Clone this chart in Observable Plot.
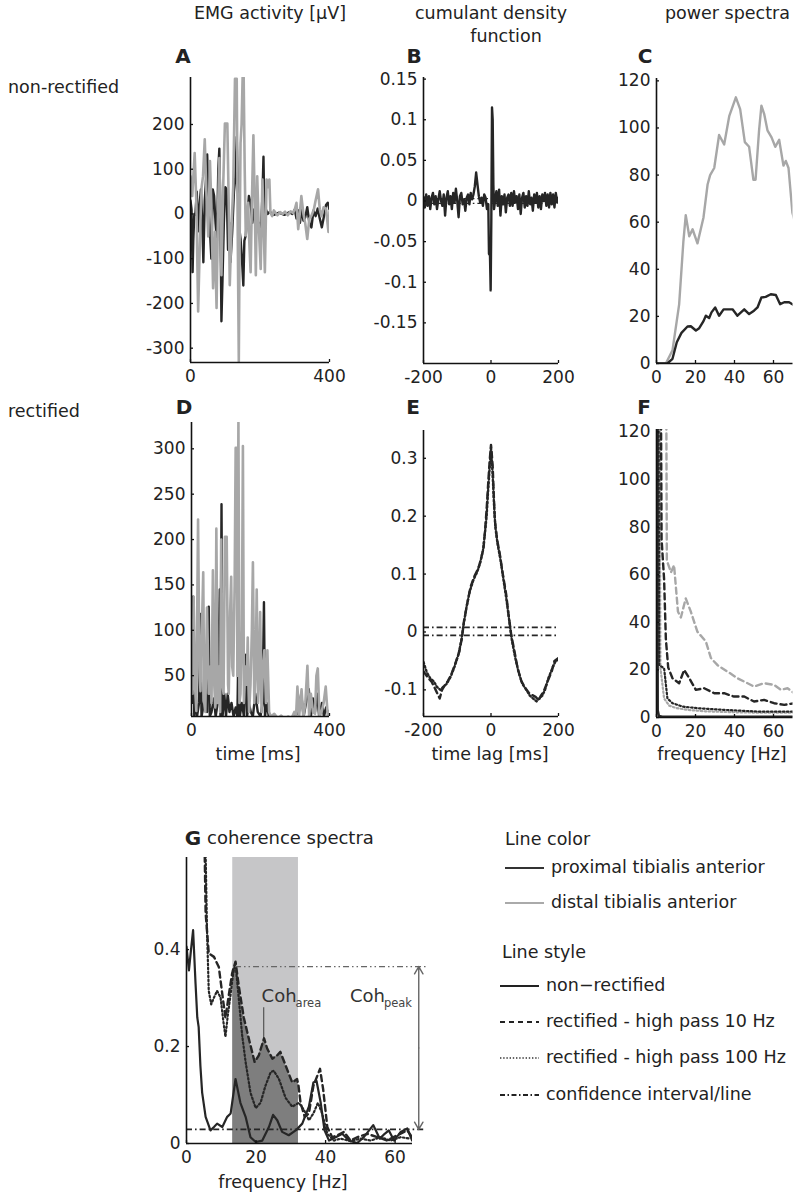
<!DOCTYPE html>
<html>
<head>
<meta charset="utf-8">
<script src="https://cdn.jsdelivr.net/npm/d3@7"></script>
<script src="https://cdn.jsdelivr.net/npm/@observablehq/plot@0.6"></script>
<style>
  html, body { margin: 0; padding: 0; background: #fff; }
  #root { position: relative; width: 793px; height: 1199px; overflow: hidden; font-family: 'DejaVu Sans', sans-serif; color: #222; }
  .lbl { position: absolute; white-space: nowrap; line-height: 1; }
</style>
</head>
<body>
<div id="root"></div>
<script>
// ---------------- DATA ----------------
// Panel A: non-rectified EMG [µV] vs time [ms]
const aGrayT = [0,5,12,17,22,28,32,36,41,46,51,56,60,65,70,75,79,83,86,89,94,99,106,110,113,118,123,128,133,136,139,141,144,147,150,153,156,159,162,166,169,173,177,181,185,188,192,196,202,207,211,214,219,223,227,230,235,240,245,250,258,265,272,280,288,295,300,305,310,315,319,325,330,336,342,348,355,360,367,372,377,383,390,397,400];
const aGrayV = [84,40,136,20,-218,-30,60,84,167,40,-50,118,20,-166,-40,-210,0,125,10,-137,60,202,202,20,-159,-30,62,302,302,-50,-329,-100,158,200,305,305,100,-48,-10,25,-60,-130,40,176,20,-137,84,-20,-123,77,-40,-130,77,60,77,3,-5,8,2,-3,4,0,5,-3,6,2,10,25,-34,5,40,0,-20,-56,-10,-4,10,30,55,10,-5,15,12,-40,5];
const aBlackT = [0,3,6,8,11,14,18,22,26,30,34,37,41,45,48,52,56,60,64,68,72,76,80,83,86,89,92,96,100,104,108,112,115,120,125,129,133,136,140,144,148,152,155,159,163,168,173,178,183,188,193,198,203,207,210,213,217,222,228,240,255,270,285,293,300,305,310,315,320,325,330,336,342,348,354,360,366,372,378,384,390,395,400];
const aBlackV = [30,10,-130,-60,0,-2,50,-39,20,55,-20,-108,30,80,133,20,-39,-100,55,40,-20,-60,100,146,0,-240,-150,-20,60,55,-80,-20,-108,-40,50,80,172,60,-30,-55,-100,-160,-60,-48,-10,40,25,-20,10,-19,-40,-20,-30,40,128,-19,10,0,5,-2,3,-2,4,0,10,-10,8,-20,12,-15,-8,15,-20,-30,8,-5,12,-10,-30,-5,20,25,10];

// Panel B: cumulant density (non-rectified) vs lag [ms]
const bLag = [-200,-196,-192,-188,-184,-180,-176,-172,-168,-164,-160,-156,-152,-148,-144,-140,-136,-132,-128,-124,-120,-116,-112,-108,-104,-100,-96,-92,-88,-84,-80,-76,-72,-68,-64,-60,-56,-52,-48,-44,-40,-36,-32,-28,-24,-20,-16,-12,-8,-6,-3,-1,1,2,3,5,7,9,12,16,20,24,28,32,36,40,44,48,52,56,60,64,68,72,76,80,84,88,92,96,100,104,108,112,116,120,124,128,132,136,140,144,148,152,156,160,164,168,172,176,180,184,188,192,196,200];
const bVal = [0.005,-0.008,0.008,-0.006,0.006,-0.01,0.004,0.01,-0.004,0.006,-0.01,0.002,0.012,0.0,-0.006,0.008,-0.018,0.004,0.012,-0.004,0.006,-0.01,0.01,-0.002,0.015,0.0,-0.02,0.006,0.01,-0.004,0.002,-0.012,0.004,0.008,-0.004,0.01,0.002,0.008,0.018,0.035,0.02,0.006,-0.002,0.004,-0.006,0.008,0.004,-0.01,-0.004,-0.065,-0.067,-0.11,-0.02,0.05,0.115,0.1,0.02,-0.01,0.0,0.012,-0.006,0.014,-0.018,0.006,-0.004,0.008,-0.014,0.004,0.008,-0.006,0.01,-0.006,0.012,-0.002,0.006,-0.01,0.008,-0.016,0.004,0.01,-0.008,0.006,-0.006,0.012,-0.004,0.004,-0.012,0.008,-0.002,0.01,-0.008,0.006,-0.01,0.008,0.0,0.01,-0.006,0.008,-0.008,0.01,-0.004,0.008,-0.008,0.01,-0.002,0.004];
const bConf = [0.003, -0.003];

// Panel C: power spectra (non-rectified) vs frequency [Hz]
const cGrayF = [0,4.8,8.2,11.6,13.8,15,16.8,18.5,21,24.1,26.2,27.5,29.6,32.1,34.7,37.3,40.7,42.9,45.3,47.5,49.7,50.8,52.6,53.8,55.2,56.9,59,60.9,62.9,65.1,66.3,67.7,69.7,71];
const cGrayP = [0,0,5.6,25,52,63,54,57,51,62,76,80,83,97,93,105,113,108,94,92,78,78,99,109.5,106,99,96,92,95,84,86,83,64,60];
const cBlackF = [0,5.6,8.2,10.4,12.8,15.9,17.6,20.2,21.9,24.1,25.3,27,28.2,30.1,32.1,34.4,36.4,39,41.5,45,47.5,50,51.8,53.8,56,58.6,61.2,63.4,65.5,68,70.4];
const cBlackP = [0,0,2,9,13,15.7,15.8,14,15,18,20.3,19.3,21.7,23.8,20.3,23,23,23,20.3,23,21,22.4,23.8,28,28.3,29.4,29.1,25.2,26,26,24.8];

// Panel D: rectified EMG [µV] vs time [ms]
const dGrayT = [0,3,6,10,14,19,23,26,30,34,37,40,45,50,55,58,62,66,69,72,76,80,83,86,90,93,97,102,106,108,112,115,118,121,125,128,131,133,136,139,142,146,149,152,156,160,163,167,171,175,178,182,186,189,193,196,199,203,207,211,216,220,225,230,240,250,260,270,280,290,298,303,307,312,319,324,330,336,341,346,352,358,362,366,371,377,383,389,395,400];
const dGrayV = [78,30,137,40,11,222,60,33,100,164,20,10,125,30,60,20,166,40,15,212,20,60,10,200,40,30,203,203,40,30,120,159,60,50,150,301,301,50,331,20,30,100,303,20,60,40,92,10,40,100,175,20,60,145,20,50,120,10,60,78,20,78,10,5,8,3,6,2,5,3,10,5,38,5,35,3,20,61,5,30,10,8,50,58,5,10,20,38,5,10];
const dBlackT = [0,2,5,8,12,16,22,26,29,34,40,45,50,53,58,65,70,76,82,84,87,90,95,100,105,110,116,122,128,133,137,140,146,152,158,161,166,172,178,185,192,200,206,210,213,218,224,230,250,270,290,300,310,318,325,332,340,346,352,358,364,370,378,384,390,400];
const dBlackV = [137,20,137,5,30,5,20,118,5,15,30,10,126,5,10,25,5,20,145,5,239,5,30,5,30,10,20,5,15,5,111,5,20,5,73,5,20,10,5,30,10,5,20,131,5,20,5,3,3,3,3,5,10,30,5,20,35,5,25,10,30,5,20,5,15,5];

// Panel E: cumulant density (rectified) vs lag [ms]
const eDashLag = [-200,-188,-176,-164,-152,-145,-137,-128,-118,-106,-94,-86,-80,-70,-61,-50,-37,-30,-22,-17,-12.5,-8,-5,-2,0,2,5,8,11.5,18,26,35,45,52,60,70,79,90,103,112,122,132,141,148,156,168,180,188,200];
const eDashVal = [-0.068,-0.078,-0.086,-0.1,-0.115,-0.1,-0.092,-0.085,-0.074,-0.055,-0.034,-0.01,0.019,0.05,0.077,0.095,0.111,0.125,0.146,0.18,0.216,0.26,0.286,0.31,0.323,0.31,0.286,0.24,0.193,0.16,0.135,0.1,0.065,0.03,-0.005,-0.035,-0.063,-0.085,-0.098,-0.105,-0.109,-0.112,-0.118,-0.11,-0.103,-0.085,-0.068,-0.05,-0.045];
const eDotLag = [-200,-190,-180,-170,-160,-150,-142,-132,-120,-108,-96,-88,-82,-72,-63,-52,-40,-32,-24,-18,-13,-9,-5,-2,0,2,5,9,13,20,28,37,46,54,62,72,82,93,105,115,125,135,143,152,160,170,182,192,200];
const eDotVal = [-0.052,-0.07,-0.08,-0.085,-0.095,-0.1,-0.095,-0.09,-0.078,-0.06,-0.038,-0.015,0.01,0.045,0.07,0.09,0.105,0.12,0.14,0.17,0.2,0.24,0.275,0.3,0.318,0.3,0.27,0.22,0.18,0.15,0.125,0.09,0.055,0.02,-0.015,-0.045,-0.07,-0.09,-0.1,-0.11,-0.115,-0.12,-0.115,-0.11,-0.1,-0.08,-0.062,-0.05,-0.048];
const eConf = [0.008, -0.006];

// Panel F: power spectra (rectified) vs frequency [Hz]
const fSolidF = [0,0.6,1.2,3,71];
const fSolidP = [300,3,0.6,0.3,0.3];
const fDashBlackF = [1.4,2.6,3.9,4.8,6,8.2,11.6,14.2,16.8,20.2,24.4,29.6,34.7,39.8,45,50,55.2,60.3,65.5,70.6];
const fDashBlackP = [300,75,58,33,21,16.5,14.4,20,16.5,11.6,12.3,10.2,10.2,8.8,8.8,6.7,7.4,6,5.3,6];
const fDashGrayF = [4.3,5.3,7.4,9,11,12.5,15,17.6,21,25.3,27.9,31.3,36.4,41.5,46.7,50,55.2,60.3,63.8,67.2,70.6];
const fDashGrayP = [300,66,61,64,44.5,42,50,44.5,36,32,25,22,19.3,16.5,14.4,13,14.4,13.7,11.6,12.3,10.2];
const fDotBlackF = [0.5,1.4,3.9,5.6,8.2,13.3,21,34.7,51.8,70.6];
const fDotBlackP = [300,22,20.7,8,6,4.6,3.9,3.2,2.5,2.5];
const fDotGrayF = [1.0,2.0,3.9,6.5,10,16,25,40,55,70.6];
const fDotGrayP = [300,21,8,5,4,3.2,2.6,2.2,2,2];

// Panel G: coherence spectra vs frequency [Hz]
const gSolidF = [0,0.7,1.3,1.9,2.6,3.1,3.5,4,4.5,5.5,6.9,7.9,8.8,10.3,11.7,12.7,14.1,15.5,17,18.4,19.9,21.8,23.7,24.9,26.1,27.5,29.4,31.4,33.3,35.2,36.5,37.4,38.6,39.7,41,42.9,44.8,46.7,49.1,51,53.7,55.6,57,58.2,59.7,61.6,63.5,64.9];
const gSolidC = [0.406,0.357,0.4,0.44,0.33,0.26,0.24,0.16,0.105,0.055,0.027,0.034,0.041,0.034,0.055,0.062,0.133,0.084,0.055,0.013,0.003,0.006,0.034,0.059,0.048,0.024,0.017,0.027,0.041,0.076,0.126,0.129,0.084,0.027,0.006,0.013,0.02,0.006,0.001,0.013,0.038,0.01,0.02,0.027,0.006,0.024,0.031,0.006];
const gDashF = [4.8,5.5,6.4,7.9,9.3,10.3,11.2,12.2,13.1,13.3,14.1,15.1,16.5,17.9,19.6,20.8,22.3,23.2,24.7,26.1,27,28.5,30.4,31.8,32.2,32.8,34,35.2,36.5,38.4,39.3,40.5,41.9,43.4,45.3,47.2,49.1,52,54.9,57.7,60.6,63.5,64.9];
const gDashC = [0.8,0.476,0.392,0.385,0.364,0.308,0.259,0.308,0.35,0.356,0.375,0.322,0.259,0.217,0.168,0.182,0.217,0.196,0.175,0.182,0.189,0.161,0.126,0.133,0.12,0.084,0.055,0.062,0.119,0.154,0.112,0.034,0.013,0.017,0.024,0.006,0.013,0.02,0.013,0.006,0.017,0.027,0.013];
const gDotF = [5,5.9,6.4,7.1,7.9,8.8,9.8,10.6,11.2,11.9,12.7,13.4,14.1,15.1,16,17,18.4,19.9,21.3,22.7,24.2,25.1,26.6,28.5,30.4,32.3,33.8,35.2,36.5,37.8,39,40.5,42.4,44.3,47.2,50.1,53,55.8,58.7,61.6,64.5];
const gDotC = [0.8,0.44,0.315,0.287,0.301,0.315,0.301,0.252,0.22,0.266,0.308,0.35,0.371,0.294,0.224,0.168,0.105,0.073,0.084,0.119,0.147,0.15,0.133,0.094,0.076,0.084,0.069,0.048,0.062,0.084,0.062,0.02,0.006,0.01,0.005,0.01,0.006,0.013,0.006,0.013,0.01];
const gBand = [13.3, 32.2];          // Hz, shaded frequency band
const gConfidence = 0.029;           // confidence line
const gPeak = {f: 14.1, coh: 0.365}; // peak coherence
const gLineEnd = 69;                 // Hz, end of reference lines
const gArrowF = 66.8;                // Hz, Coh_peak arrow
const gAreaLabel = {f: 21.6, coh: 0.291, leaderF: 22.2, leaderTop: 0.28, leaderBottom: 0.216};
const gPeakLabel = {f: 47.0, coh: 0.291};

// tick labels
const aYTicks = [-300,-200,-100,0,100,200], aXTicks = [0,400];
const bYTicks = [-0.15,-0.1,-0.05,0,0.05,0.1,0.15], bXTicks = [-200,0,200];
const cYTicks = [0,20,40,60,80,100,120], cXTicks = [0,20,40,60];
const dYTicks = [50,100,150,200,250,300], dXTicks = [0,400];
const eYTicks = [-0.1,0,0.1,0.2,0.3], eXTicks = [-200,0,200];
const fYTicks = [0,20,40,60,80,100,120], fXTicks = [0,20,40,60];
const gYTicks = [0,0.2,0.4], gXTicks = [0,20,40,60];

// ---------------- DRAWING ----------------
const FONT = "'DejaVu Sans', sans-serif";
const BLACK = "#262626", GRAY = "#a7a7a7";
const DASH = "6,4", DOT = "1.6,2.4", DASHDOT = "6,3,1.6,3";
const root = document.getElementById("root");
const rows = (xs, ys) => xs.map((x, i) => ({x, y: ys[i]}));

function label(text, x, y, {anchor = "middle", size = 17.5, weight = 400} = {}) {
  const d = document.createElement("div");
  d.className = "lbl";
  d.textContent = text;
  d.style.left = x + "px";
  d.style.top = y + "px";
  d.style.fontSize = size + "px";
  d.style.fontWeight = weight;
  const tx = anchor === "middle" ? "-50%" : anchor === "end" ? "-100%" : "0";
  d.style.transform = `translate(${tx}, -50%)`;
  root.appendChild(d);
}

function panel(o) {
  const [x0, y0, x1, y1] = o.frame;
  const mL = 70, mR = 30, mT = 20, mB = 40;
  const chart = Plot.plot({
    width: x1 - x0 + mL + mR, height: y1 - y0 + mT + mB,
    marginLeft: mL, marginRight: mR, marginTop: mT, marginBottom: mB,
    style: {background: "transparent", overflow: "visible", fontFamily: FONT, fontSize: "17px", color: "#222", maxWidth: "none"},
    x: {domain: o.xDomain}, y: {domain: o.yDomain},
    marks: [
      ...o.marks,
      Plot.ruleX([o.xDomain[0]], {stroke: "#111", strokeWidth: 1.6}),
      Plot.ruleY([o.yDomain[0]], {stroke: "#111", strokeWidth: 1.6}),
      Plot.axisY(o.yTicks, {tickSize: -3, tickPadding: 9, tickFormat: d => String(d), label: null, stroke: "#111", strokeWidth: 1.3}),
      Plot.axisX(o.xTicks, {tickSize: -3, tickPadding: 10, tickFormat: d => String(d), label: null, stroke: "#111", strokeWidth: 1.3})
    ]
  });
  chart.style.position = "absolute";
  chart.style.left = (x0 - mL) + "px";
  chart.style.top = (y0 - mT) + "px";
  root.appendChild(chart);
}

// Panel A
panel({
  frame: [190, 77, 329, 362], xDomain: [0, 400], yDomain: [-332, 305], xTicks: aXTicks, yTicks: aYTicks,
  marks: [
    Plot.line(rows(aBlackT, aBlackV), {x: "x", y: "y", stroke: BLACK, strokeWidth: 2.4, clip: true}),
    Plot.line(rows(aGrayT, aGrayV), {x: "x", y: "y", stroke: GRAY, strokeWidth: 2.6, clip: true})
  ]
});
// Panel B
panel({
  frame: [423, 77, 558, 363], xDomain: [-200, 200], yDomain: [-0.2, 0.152], xTicks: bXTicks, yTicks: bYTicks,
  marks: [
    Plot.ruleY(bConf, {stroke: BLACK, strokeWidth: 1.2, strokeDasharray: DASHDOT}),
    Plot.line(rows(bLag, bVal), {x: "x", y: "y", stroke: BLACK, strokeWidth: 2.4, clip: true})
  ]
});
// Panel C
panel({
  frame: [656, 78, 792.5, 363], xDomain: [0, 70], yDomain: [0, 121], xTicks: cXTicks, yTicks: cYTicks,
  marks: [
    Plot.line(rows(cGrayF, cGrayP), {x: "x", y: "y", stroke: GRAY, strokeWidth: 2.4, clip: true}),
    Plot.line(rows(cBlackF, cBlackP), {x: "x", y: "y", stroke: BLACK, strokeWidth: 2.4, clip: true})
  ]
});
// Panel D
panel({
  frame: [191, 422, 329, 716], xDomain: [0, 400], yDomain: [5, 329], xTicks: dXTicks, yTicks: dYTicks,
  marks: [
    Plot.line(rows(dBlackT, dBlackV), {x: "x", y: "y", stroke: BLACK, strokeWidth: 2.4, clip: true}),
    Plot.line(rows(dGrayT, dGrayV), {x: "x", y: "y", stroke: GRAY, strokeWidth: 2.6, clip: true})
  ]
});
// Panel E
panel({
  frame: [423, 430, 558, 716], xDomain: [-200, 200], yDomain: [-0.146, 0.348], xTicks: eXTicks, yTicks: eYTicks,
  marks: [
    Plot.ruleY(eConf, {stroke: BLACK, strokeWidth: 1.8, strokeDasharray: DASHDOT}),
    Plot.line(rows(eDotLag, eDotVal), {x: "x", y: "y", stroke: BLACK, strokeWidth: 2.4, strokeDasharray: DOT, clip: true}),
    Plot.line(rows(eDashLag, eDashVal), {x: "x", y: "y", stroke: BLACK, strokeWidth: 2.4, strokeDasharray: DASH, clip: true})
  ]
});
// Panel F
panel({
  frame: [656, 429, 792.5, 717], xDomain: [0, 70], yDomain: [0, 121], xTicks: fXTicks, yTicks: fYTicks,
  marks: [
    Plot.line(rows(fDashGrayF, fDashGrayP), {x: "x", y: "y", stroke: GRAY, strokeWidth: 2.4, strokeDasharray: DASH, clip: true}),
    Plot.line(rows(fDotGrayF, fDotGrayP), {x: "x", y: "y", stroke: GRAY, strokeWidth: 2.2, strokeDasharray: DOT, clip: true}),
    Plot.line(rows(fDotBlackF, fDotBlackP), {x: "x", y: "y", stroke: BLACK, strokeWidth: 2.2, strokeDasharray: DOT, clip: true}),
    Plot.line(rows(fDashBlackF, fDashBlackP), {x: "x", y: "y", stroke: BLACK, strokeWidth: 2.4, strokeDasharray: DASH, clip: true}),
    Plot.line(rows(fSolidF, fSolidP), {x: "x", y: "y", stroke: BLACK, strokeWidth: 2.6, clip: true})
  ]
});
// Panel G
const gTop = 0.59;
const gDash = rows(gDashF, gDashC);
panel({
  frame: [186, 857, 412, 1143], xDomain: [0, 65], yDomain: [0, gTop], xTicks: gXTicks, yTicks: gYTicks,
  marks: [
    Plot.rect([gBand], {x1: d => d[0], x2: d => d[1], y1: 0, y2: gTop, fill: "#c6c6c8"}),
    Plot.areaY(gDash.filter(d => d.x >= gBand[0] && d.x <= gBand[1]), {x: "x", y: "y", fill: "#7e7e7e"}),
    Plot.ruleX([gAreaLabel.leaderF], {y1: gAreaLabel.leaderBottom, y2: gAreaLabel.leaderTop, stroke: "#555", strokeWidth: 1.2}),
    Plot.line(rows(gSolidF, gSolidC), {x: "x", y: "y", stroke: BLACK, strokeWidth: 2.2, clip: true}),
    Plot.line(rows(gDotF, gDotC), {x: "x", y: "y", stroke: BLACK, strokeWidth: 2.2, strokeDasharray: DOT, clip: true}),
    Plot.line(gDash, {x: "x", y: "y", stroke: BLACK, strokeWidth: 2.4, strokeDasharray: DASH, clip: true}),
    Plot.ruleY([gPeak.coh], {x1: gPeak.f, x2: gLineEnd, stroke: "#666", strokeWidth: 1.2, strokeDasharray: "6,3,1.5,3,1.5,3"}),
    Plot.ruleY([gConfidence], {x1: 0, x2: gLineEnd, stroke: BLACK, strokeWidth: 1.8, strokeDasharray: DASHDOT}),
    Plot.arrow([{y1: (gPeak.coh + gConfidence) / 2, y2: gPeak.coh}, {y1: (gPeak.coh + gConfidence) / 2, y2: gConfidence}],
      {x1: gArrowF, x2: gArrowF, y1: "y1", y2: "y2", stroke: "#666", strokeWidth: 1.4, headLength: 9}),
    Plot.text([gAreaLabel], {x: "f", y: "coh", text: () => "Coh", textAnchor: "start", lineAnchor: "bottom", fontSize: 18, fill: "#333"}),
    Plot.text([gAreaLabel], {x: "f", y: "coh", text: () => "area", textAnchor: "start", lineAnchor: "bottom", fontSize: 11.5, dx: 34, dy: 5, fill: "#444"}),
    Plot.text([gPeakLabel], {x: "f", y: "coh", text: () => "Coh", textAnchor: "start", lineAnchor: "bottom", fontSize: 18, fill: "#333"}),
    Plot.text([gPeakLabel], {x: "f", y: "coh", text: () => "peak", textAnchor: "start", lineAnchor: "bottom", fontSize: 11.5, dx: 34, dy: 5, fill: "#444"})
  ]
});

// ---------------- TEXT ----------------
label("EMG activity [μV]", 270, 14);
label("cumulant density", 491, 14);
label("function", 506, 37);
label("power spectra", 790, 14, {anchor: "end"});
label("non-rectified", 8, 88, {anchor: "start"});
label("rectified", 8, 412, {anchor: "start"});
label("A", 183, 56, {size: 20, weight: 700});
label("B", 414, 56, {size: 20, weight: 700});
label("C", 645, 56, {size: 20, weight: 700});
label("D", 184, 407, {size: 20, weight: 700});
label("E", 413, 407, {size: 20, weight: 700});
label("F", 644, 407, {size: 20, weight: 700});
label("G", 193, 838, {size: 20, weight: 700});
label("coherence spectra", 207, 838, {anchor: "start", size: 18});
label("time [ms]", 258, 755);
label("time lag [ms]", 490, 755);
label("frequency [Hz]", 722, 755);
label("frequency [Hz]", 283, 1183);

// ---------------- LEGEND ----------------
label("Line color", 505, 840, {anchor: "start"});
label("Line style", 502, 953, {anchor: "start"});
const legendItems = [
  {y: 868, x: 505, text: "proximal tibialis anterior", stroke: "#333", dash: null, w: 2},
  {y: 903, x: 505, text: "distal tibialis anterior", stroke: "#aaa", dash: null, w: 2},
  {y: 986, x: 500, text: "non\u2212rectified", stroke: "#222", dash: null, w: 2},
  {y: 1022, x: 500, text: "rectified - high pass 10 Hz", stroke: "#222", dash: "5,4", w: 2},
  {y: 1058, x: 500, text: "rectified - high pass 100 Hz", stroke: "#333", dash: "1.4,1.8", w: 1.6},
  {y: 1095, x: 500, text: "confidence interval/line", stroke: "#222", dash: "5,2.5,1.5,2.5", w: 2}
];
for (const it of legendItems) {
  const svg = d3.create("svg").attr("width", 40).attr("height", 6)
    .style("position", "absolute").style("left", it.x + "px").style("top", (it.y - 3) + "px").style("overflow", "visible");
  svg.append("line").attr("x1", 0).attr("x2", 39).attr("y1", 3).attr("y2", 3)
    .attr("stroke", it.stroke).attr("stroke-width", it.w).attr("stroke-dasharray", it.dash);
  root.appendChild(svg.node());
  label(it.text, it.x + 46, it.y, {anchor: "start"});
}
</script>
</body>
</html>
